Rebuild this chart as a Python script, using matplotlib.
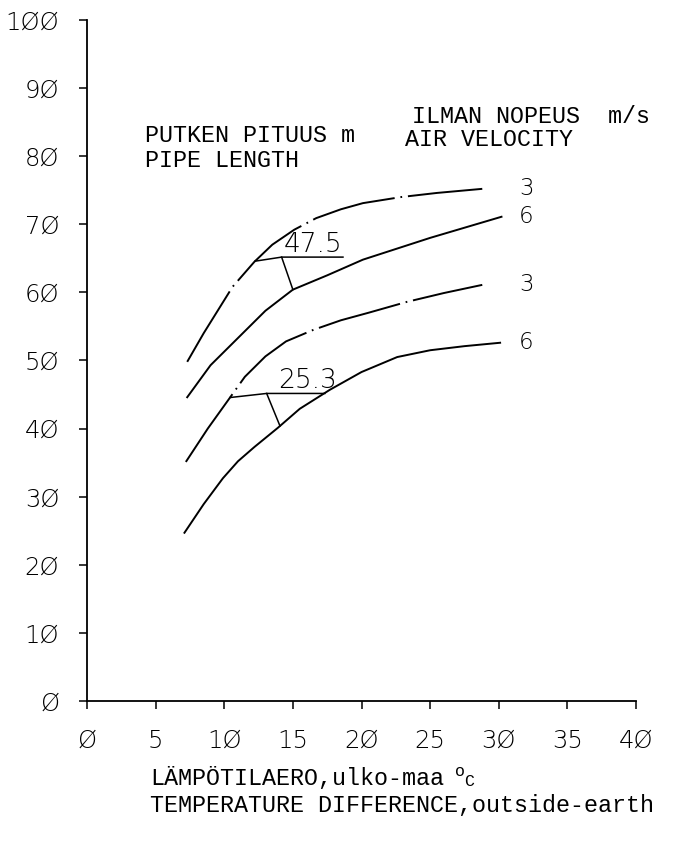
import matplotlib
matplotlib.use('Agg')
import matplotlib.pyplot as plt
from matplotlib.ticker import FuncFormatter, MultipleLocator
import numpy as np

# Lämpötilaero (°C) ja putken pituus (m), luettu kuvasta
x_a = [7.3, 8.5, 10.6, 12.2, 13.5, 15.1, 16.7, 18.5, 20.1, 22.9, 25.5, 28.8]
y_a = [49.8, 54.0, 60.8, 64.5, 67.0, 69.2, 70.9, 72.2, 73.1, 74.0, 74.6, 75.2]

x_b = [7.3, 9.0, 11.1, 13.0, 15.0, 17.5, 20.1, 25.0, 30.2]
y_b = [44.6, 49.3, 53.5, 57.3, 60.4, 62.5, 64.8, 68.0, 71.1]

x_c = [7.2, 8.8, 10.4, 11.5, 13.0, 14.5, 16.5, 18.5, 20.5, 23.3, 26.0, 28.8]
y_c = [35.1, 40.0, 44.5, 47.6, 50.6, 52.8, 54.5, 55.9, 57.0, 58.6, 59.9, 61.1]

x_d = [7.1, 8.5, 9.9, 11.0, 12.2, 13.9, 15.5, 17.7, 20.0, 22.6, 25.0, 27.5, 30.1]
y_d = [24.7, 28.9, 32.7, 35.2, 37.3, 40.1, 42.9, 45.7, 48.3, 50.5, 51.5, 52.1, 52.6]

nopeudet = [3, 6, 3, 6]          # ilman nopeus m/s
pituudet = [47.5, 25.3]          # putken pituus m

SANS = 'DejaVu Sans'
MONO = 'Liberation Mono'
LW = 1.4

fig = plt.figure(figsize=(6.73, 8.42), dpi=100)
ax = fig.add_axes([0.1293, 0.1675, 0.8157, 0.8088])

viiva = (1.2, (43.5, 3, 0.9, 3))
ax.plot(x_a, y_a, color='black', lw=LW, linestyle=viiva)
ax.plot(x_b, y_b, color='black', lw=LW)
ax.plot(x_c, y_c, color='black', lw=LW, linestyle=viiva)
ax.plot(x_d, y_d, color='black', lw=LW)

# nopeuksien merkinnät käyrien päähän
for ys, v in zip([y_a, y_b, y_c, y_d], nopeudet):
    ax.text(32.0, ys[-1], str(v), fontsize=16.5, family=SANS, fontweight='light',
            ha='center', va='center')

# pituuksien merkinnät: viiva ylemmältä käyrältä, alaviiva ja viite alemmalle
for (xu, yu), (xl, yl), x1, xk, xe, x2, xt, p in zip(
        [(x_a, y_a), (x_c, y_c)], [(x_b, y_b), (x_d, y_d)],
        [12.24, 10.42], [14.18, 13.09], [18.65, 17.33], [15.0, 14.06],
        [14.3, 13.9], pituudet):
    ya = np.interp(x1, xu, yu)
    yb = np.interp(x2, xl, yl)
    yk = ya + 0.6
    ax.plot([x1, xk, xe], [ya, yk, yk], color='black', lw=1.1)
    ax.plot([xk, x2], [yk, yb], color='black', lw=1.1)
    ax.text(xt, yk + 0.8, f'{p}', fontsize=19, family=SANS, fontweight='light',
            ha='left', va='baseline')

ax.set_xlim(0, 40)
ax.set_ylim(0, 100)
ax.xaxis.set_major_locator(MultipleLocator(5))
ax.yaxis.set_major_locator(MultipleLocator(10))
ax.xaxis.set_major_formatter(FuncFormatter(lambda v, p: f'{v:.0f}'.replace('0', 'Ø')))
ax.yaxis.set_major_formatter(FuncFormatter(lambda v, p: f'{v:.0f}'.replace('0', 'Ø')))
for t in ax.get_xticklabels() + ax.get_yticklabels():
    t.set_family(SANS)
    t.set_fontweight('light')
ax.tick_params(axis='y', direction='out', length=6, width=1.1, pad=14, labelsize=17.5)
ax.tick_params(axis='x', direction='out', length=6, width=1.1, pad=14, labelsize=17.5)
ax.spines['top'].set_visible(False)
ax.spines['right'].set_visible(False)
ax.spines['left'].set_linewidth(1.3)
ax.spines['bottom'].set_linewidth(1.3)

# otsikot
FS = 16.8
ax.text(4.2, 83.0, 'PUTKEN PITUUS m', family=MONO, fontsize=FS, va='center')
ax.text(4.2, 79.3, 'PIPE LENGTH', family=MONO, fontsize=FS, va='center')
ax.text(23.7, 85.8, 'ILMAN NOPEUS  m/s', family=MONO, fontsize=FS, va='center')
ax.text(23.2, 82.4, 'AIR VELOCITY', family=MONO, fontsize=FS, va='center')

fig.text(150 / 673, 57 / 842, 'LÄMPÖTILAERO,ulko-maa', family=MONO, fontsize=FS,
         va='baseline')
fig.text(455 / 673, 66 / 842, 'o', family=MONO, fontsize=12, va='baseline')
fig.text(464 / 673, 56 / 842, 'C', family=MONO, fontsize=12, va='baseline')
fig.text(150 / 673, 30 / 842, 'TEMPERATURE DIFFERENCE,outside-earth', family=MONO,
         fontsize=FS, va='baseline')

fig.savefig('out.png', dpi=100)
